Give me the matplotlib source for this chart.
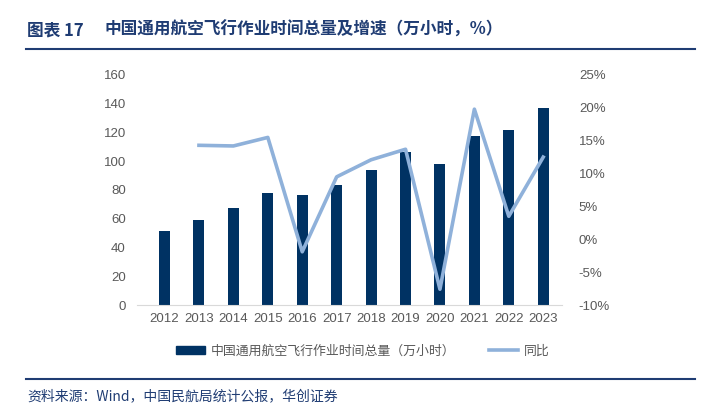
import matplotlib.pyplot as plt
from matplotlib.lines import Line2D
from matplotlib.patches import Patch

plt.rcParams['font.family'] = ['Noto Sans CJK SC', 'DejaVu Sans']

years = ['2012', '2013', '2014', '2015', '2016', '2017', '2018', '2019', '2020', '2021', '2022', '2023']
hours = [51.5, 59.0, 67.2, 77.7, 76.3, 83.5, 93.7, 106.2, 98.3, 117.8, 121.7, 137.3]
yoy = [None, 14.3, 14.2, 15.5, -1.9, 9.5, 12.1, 13.7, -7.6, 19.8, 3.5, 12.5]

navy = '#003263'
light = '#8FB1DA'
title_blue = '#1F3C73'
gray = '#595959'
num_font = ['Liberation Sans', 'DejaVu Sans']

fig = plt.figure(figsize=(7.08, 4.12), dpi=100)
ax = fig.add_axes([0.1935, 0.2597, 0.6005, 0.5583])
x = list(range(len(years)))
ax.bar(x, hours, width=0.32, color=navy, zorder=2)
ax.set_ylim(0, 160)
ax.set_yticks(range(0, 161, 20))
ax.set_xlim(-0.8, len(years) - 0.45)
ax.set_xticks(x)
ax.set_xticklabels(years)
for s in ['top', 'right', 'left']:
    ax.spines[s].set_visible(False)
ax.spines['bottom'].set_color('#D9D9D9')
ax.tick_params(axis='both', length=0, labelsize=9.5, colors=gray, pad=6)
ax.tick_params(axis='y', pad=8)

ax2 = ax.twinx()
xs = [i for i, v in zip(x, yoy) if v is not None]
ys = [v for v in yoy if v is not None]
ax2.plot(xs, ys, color=light, linewidth=2.6, zorder=3)
ax2.set_ylim(-10, 25)
ax2.set_yticks(range(-10, 26, 5))
ax2.set_yticklabels([f'{v}%' for v in range(-10, 26, 5)])
for s in ax2.spines.values():
    s.set_visible(False)
ax2.tick_params(axis='y', length=0, labelsize=9.5, colors=gray, pad=12)

for lab in ax.get_xticklabels() + ax.get_yticklabels() + ax2.get_yticklabels():
    lab.set_family(num_font)

handles = [Patch(color=navy), Line2D([0], [0], color=light, linewidth=2.6)]
labels = ['中国通用航空飞行作业时间总量（万小时）', '同比']
fig.legend(handles, labels, loc='center', bbox_to_anchor=(0.512, 0.148), ncol=2,
           frameon=False, fontsize=9.3, labelcolor=gray, handlelength=2.3,
           handleheight=0.5, columnspacing=2.6, handletextpad=0.4)

fig.text(0.038, 0.927, '图表 17', fontsize=12, fontweight='bold',
         color=title_blue, va='center')
fig.text(0.148, 0.927, '中国通用航空飞行作业时间总量及增速（万小时，%）',
         fontsize=12, fontweight='bold', color=title_blue, va='center')
fig.add_artist(Line2D([0.037, 0.982], [0.880, 0.880], color=title_blue, linewidth=1.5))
fig.add_artist(Line2D([0.037, 0.982], [0.080, 0.080], color=title_blue, linewidth=1.5))
fig.text(0.038, 0.039, '资料来源：Wind，中国民航局统计公报，华创证券',
         fontsize=10, color=title_blue, va='center', style='italic')

fig.savefig('out.png', dpi=100)
